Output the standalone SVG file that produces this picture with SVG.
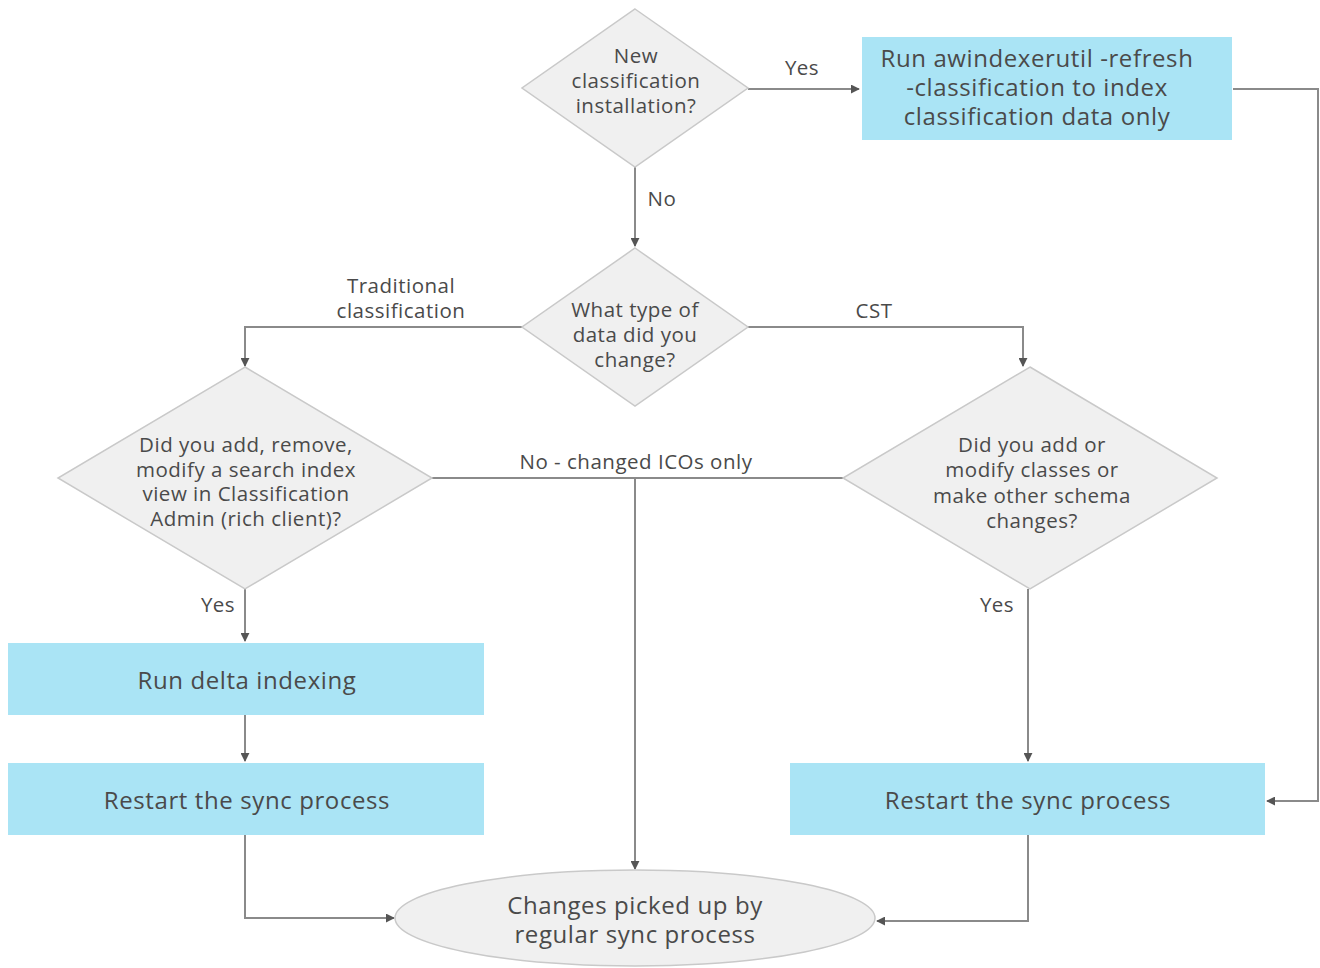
<svg xmlns="http://www.w3.org/2000/svg" width="1320" height="968" viewBox="0 0 1320 968">
  <style>
    .bg { fill: #ffffff; }
    .dec { fill: #f0f0f0; stroke: #c9c9c9; stroke-width: 1.5; }
    .act { fill: #aae4f5; stroke: none; }
    .end { fill: #f0f0f0; stroke: #c9c9c9; stroke-width: 1.5; }
    text { font-family: "Open Sans", "Noto Sans", sans-serif; fill: #4a4a4a; text-anchor: middle; }
    .q { font-size: 20.5px; letter-spacing: 0.5px; }
    .a { font-size: 24px; letter-spacing: 0.6px; }
    .lbl { font-size: 20.5px; letter-spacing: 0.5px; }
    .wire { fill: none; stroke: #8a8a8a; stroke-width: 2; marker-end: url(#arrow); }
    .wire-plain { fill: none; stroke: #8a8a8a; stroke-width: 2; }
  </style>
  <defs>
    <marker id="arrow" viewBox="0 0 10 10" refX="9" refY="5" markerWidth="9" markerHeight="9" markerUnits="userSpaceOnUse" orient="auto">
      <path d="M0,0 L10,5 L0,10 z" fill="#555555"/>
    </marker>
  </defs>
  <rect class="bg" x="0" y="0" width="1320" height="968"/>

  <!-- connectors and their labels -->
  <g id="connectors">
    <path class="wire" d="M748,89 H859"/>
    <path class="wire" d="M1233,89 H1318 V801 H1267"/>
    <path class="wire" d="M635,167 V246"/>
    <path class="wire" d="M522,327 H245 V366"/>
    <path class="wire" d="M748,327 H1023 V366"/>
    <path class="wire-plain" d="M432,478 H843"/>
    <path class="wire" d="M635,478 V869"/>
    <path class="wire" d="M245,589 V641"/>
    <path class="wire" d="M245,715 V761"/>
    <path class="wire" d="M245,835 V918 H394"/>
    <path class="wire" d="M1028,589 V761"/>
    <path class="wire" d="M1028,835 V921 H877"/>
    <text class="lbl" x="802" y="75">Yes</text>
    <text class="lbl" x="662" y="206">No</text>
    <text class="lbl" x="401" y="293">Traditional</text>
    <text class="lbl" x="401" y="318">classification</text>
    <text class="lbl" x="874" y="318">CST</text>
    <text class="lbl" x="636" y="469">No - changed ICOs only</text>
    <text class="lbl" x="218" y="612">Yes</text>
    <text class="lbl" x="997" y="612">Yes</text>
  </g>

  <g id="new-install">
    <polygon class="dec" points="635,9 748,88 635,167 522,88"/>
    <text class="q" x="636" y="63">New</text>
    <text class="q" x="636" y="88">classification</text>
    <text class="q" x="636" y="113">installation?</text>
  </g>

  <g id="refresh-classification">
    <rect class="act" x="862" y="37" width="370" height="103"/>
    <text class="a" x="1037" y="67">Run awindexerutil -refresh</text>
    <text class="a" x="1037" y="96">-classification to index</text>
    <text class="a" x="1037" y="125">classification data only</text>
  </g>

  <g id="data-type">
    <polygon class="dec" points="635,248 748,327 635,406 522,327"/>
    <text class="q" x="635" y="317">What type of</text>
    <text class="q" x="635" y="342">data did you</text>
    <text class="q" x="635" y="367">change?</text>
  </g>

  <g id="search-view-change">
    <polygon class="dec" points="245,367 432,478 245,589 58,478"/>
    <text class="q" x="246" y="452">Did you add, remove,</text>
    <text class="q" x="246" y="477">modify a search index</text>
    <text class="q" x="246" y="501">view in Classification</text>
    <text class="q" x="246" y="526">Admin (rich client)?</text>
  </g>

  <g id="schema-change">
    <polygon class="dec" points="1030,367 1217,478 1030,589 843,478"/>
    <text class="q" x="1032" y="452">Did you add or</text>
    <text class="q" x="1032" y="477">modify classes or</text>
    <text class="q" x="1032" y="503">make other schema</text>
    <text class="q" x="1032" y="528">changes?</text>
  </g>

  <g id="delta-indexing">
    <rect class="act" x="8" y="643" width="476" height="72"/>
    <text class="a" x="247" y="689">Run delta indexing</text>
  </g>

  <g id="restart-left">
    <rect class="act" x="8" y="763" width="476" height="72"/>
    <text class="a" x="247" y="809">Restart the sync process</text>
  </g>

  <g id="restart-right">
    <rect class="act" x="790" y="763" width="475" height="72"/>
    <text class="a" x="1028" y="809">Restart the sync process</text>
  </g>

  <g id="regular-sync">
    <ellipse class="end" cx="635" cy="918" rx="240" ry="48"/>
    <text class="a" x="635" y="914">Changes picked up by</text>
    <text class="a" x="635" y="943">regular sync process</text>
  </g>
</svg>
